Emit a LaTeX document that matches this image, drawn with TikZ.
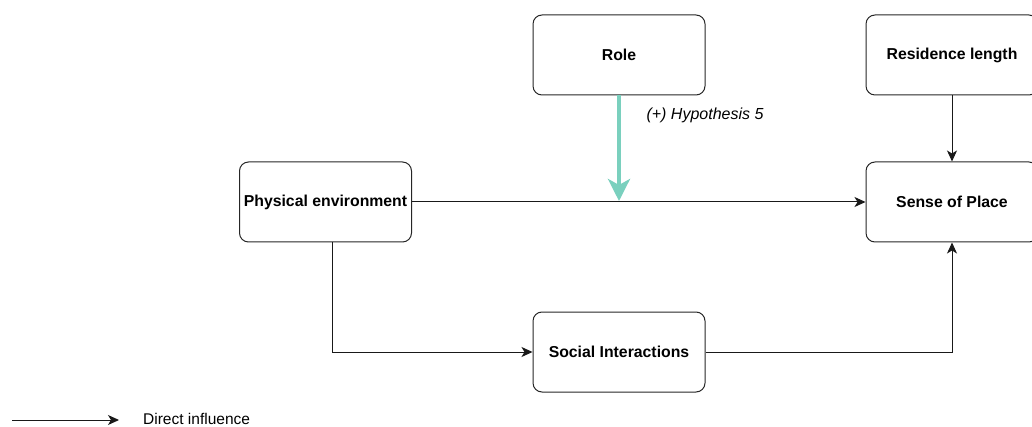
\documentclass[tikz,border=0pt]{standalone}
\usepackage{fontspec}
\setmainfont{Liberation Sans}
\usetikzlibrary{arrows.meta}
\definecolor{tealc}{RGB}{122,208,190}
\begin{document}
\begin{tikzpicture}[x=1pt,y=-1pt,
  box/.style={draw=black!85,line width=1pt,rounded corners=9pt,minimum width=172pt,minimum height=80pt,inner sep=0pt,font=\bfseries\fontsize{15.8}{18}\selectfont},
  conn/.style={draw=black!90,line width=1pt,-{Stealth[length=11pt,width=10pt,inset=3pt]}}]
\useasboundingbox (0,0) rectangle (1032,427);
\begin{scope}
\clip (0,0) rectangle (1032,427);
\node[box] (role) at (619,55) {Role};
\node[box] (res) at (952,55) {Residence length};
\node[box] (sop) at (952,202) {Sense of Place};
\node[box] (phy) at (325.5,202) {Physical environment};
\node[box] (soc) at (619,352) {Social Interactions};
\end{scope}
\draw[conn] (phy.east) -- (sop.west);
\draw[conn] (res.south) -- (sop.north);
\coordinate (phyb) at (332,242);
\draw[conn] (phyb) |- (soc.west);
\draw[conn] (soc.east) -| (sop.south);
\coordinate (hit) at (619,201);
\draw[draw=tealc,line width=4.5pt,-{Triangle[length=22pt,width=22pt,inset=6pt]}] (role.south) -- (hit);
\node[anchor=west,font=\itshape\fontsize{16}{18}\selectfont] (hyp) at (643,115) {(+) Hypothesis 5};
\coordinate (la) at (12,420);
\coordinate (lb) at (119,420);
\draw[conn] (la) -- (lb);
\node[anchor=west,inner sep=0pt,font=\fontsize{15.5}{17}\selectfont] (leg) at (143,419) {Direct influence};
\end{tikzpicture}
\end{document}
